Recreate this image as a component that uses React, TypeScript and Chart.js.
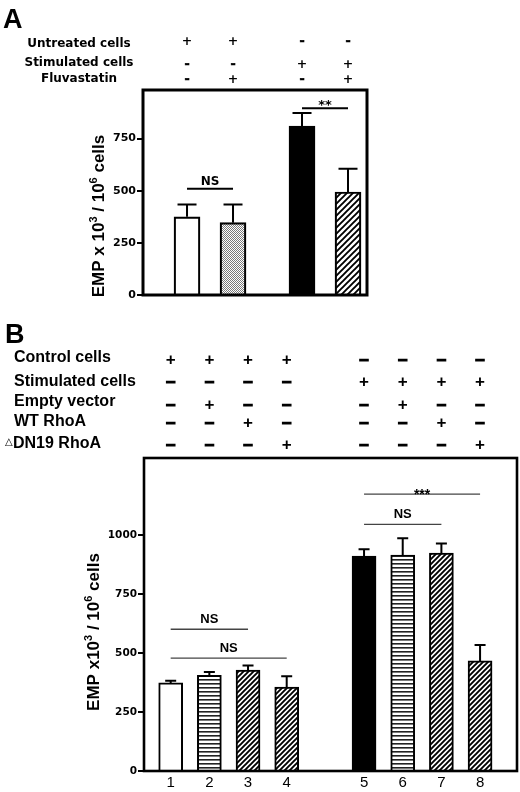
import React, { useEffect, useRef } from 'react';
import { Chart, registerables } from 'chart.js';
Chart.register(...registerables);

// ---------------- Panel A data ----------------
const aRowLabels = ['Untreated cells', 'Stimulated cells', 'Fluvastatin'];
const aSigns = [
  ['+', '+', '-', '-'],
  ['-', '-', '+', '+'],
  ['-', '+', '-', '+'],
];
const aGroups = [0, 0, 1, 1];
const aValues = [375, 347, 810, 494];
const aErrors = [59, 87, 63, 111];
const aYTicks = [0, 250, 500, 750];
const aBrackets = [
  { from: 0, to: 1, y: 510, label: 'NS' },
  { from: 2, to: 3, y: 896, label: '**' },
];

// ---------------- Panel B data ----------------
const bRowLabels = ['Control cells', 'Stimulated cells', 'Empty vector', 'WT RhoA', '△DN19 RhoA'];
const bSigns = [
  ['+', '+', '+', '+', '-', '-', '-', '-'],
  ['-', '-', '-', '-', '+', '+', '+', '+'],
  ['-', '+', '-', '-', '-', '+', '-', '-'],
  ['-', '-', '+', '-', '-', '-', '+', '-'],
  ['-', '-', '-', '+', '-', '-', '-', '+'],
];
const bGroups = [0, 0, 0, 0, 1, 1, 1, 1];
const bTickLabels = ['1', '2', '3', '4', '5', '6', '7', '8'];
const bValues = [373, 405, 427, 355, 910, 914, 922, 466];
const bErrors = [9, 14, 20, 46, 29, 71, 41, 67];
const bYTicks = [0, 250, 500, 750, 1000];
const bBrackets = [
  { from: 0, to: 2, y: 600, label: 'NS' },
  { from: 0, to: 3, y: 478, label: 'NS' },
  { from: 4, to: 6, y: 1044, label: 'NS' },
  { from: 4, to: 7, y: 1172, label: '***' },
];

const TITLE_A: [string, boolean][] = [['EMP x 10', false], ['3', true], [' / 10', false], ['6', true], [' cells', false]];
const TITLE_B: [string, boolean][] = [['EMP x10', false], ['3', true], [' / 10', false], ['6', true], [' cells', false]];

// ---------------- styles ----------------
type Fill = 'white' | 'black' | 'stipple' | 'diagonal' | 'horizontal';
const aFillKinds: Fill[] = ['white', 'stipple', 'black', 'diagonal'];
const bFillKinds: Fill[] = ['white', 'horizontal', 'diagonal', 'diagonal', 'black', 'horizontal', 'diagonal', 'diagonal'];

function makePattern(kind: Fill, hatch: number): string | CanvasPattern {
  if (kind === 'white') return '#ffffff';
  if (kind === 'black') return '#000000';
  const c = document.createElement('canvas');
  const g = c.getContext('2d')!;
  if (kind === 'stipple') {
    c.width = 2; c.height = 2;
    g.fillStyle = '#ffffff'; g.fillRect(0, 0, 2, 2);
    g.fillStyle = '#7a7a7a'; g.fillRect(0, 0, 1, 1); g.fillRect(1, 1, 1, 1);
  } else if (kind === 'horizontal') {
    c.width = 4; c.height = 4;
    g.fillStyle = '#ffffff'; g.fillRect(0, 0, 4, 4);
    g.fillStyle = '#222222'; g.fillRect(0, 0, 4, 1.6);
  } else {
    const s = hatch;
    c.width = s; c.height = s;
    g.fillStyle = '#ffffff'; g.fillRect(0, 0, s, s);
    g.strokeStyle = '#000000'; g.lineWidth = 1.9; g.lineCap = 'square';
    g.beginPath();
    g.moveTo(-1, s + 1); g.lineTo(s + 1, -1);
    g.moveTo(-1, 1); g.lineTo(1, -1);
    g.moveTo(s - 1, s + 1); g.lineTo(s + 1, s - 1);
    g.stroke();
  }
  return g.createPattern(c, 'repeat')!;
}

interface Layout {
  letter: string;
  width: number; height: number;
  area: { left: number; right: number; top: number; bottom: number };
  xMin: number; xMax: number; yMax: number; groupGap: number;
  barThickness: number; barBorder: number; hatch: number;
  capWidth: number; errWidth: number; boxWidth: number;
  tickSize: number; tickLength: number;
  rowFont: string; rowAlign: CanvasTextAlign; rowX: number; rowY: number[];
  signFont: string; signY: number[]; minusGlyph: string; minusStroke: number;
  title: [string, boolean][]; titleX: number; titleY: number; titleSize: number;
  bracketColor: string; bracketWidth: number; bracketFont: string; nsGap: number; starGap: number; starFont: string;
  xLabels: string[] | null; xAxisHeight: number;
}

const LAYOUT_A: Layout = {
  letter: 'A', width: 520, height: 315,
  area: { left: 143, right: 367, top: 90, bottom: 305 },
  xMin: -0.957, xMax: 3.913, yMax: 983, groupGap: 0.5,
  barThickness: 26, barBorder: 2.2, hatch: 6,
  capWidth: 19, errWidth: 2, boxWidth: 3,
  tickSize: 11, tickLength: 6,
  rowFont: 'bold 12px "DejaVu Sans"', rowAlign: 'center', rowX: 79, rowY: [46.5, 65.5, 81.5],
  signFont: 'bold 12.5px "DejaVu Sans"', signY: [42, 65, 80], minusGlyph: '-', minusStroke: 0.6,
  title: TITLE_A, titleX: 98, titleY: 216, titleSize: 17,
  bracketColor: '#000', bracketWidth: 2, bracketFont: 'bold 12px "DejaVu Sans"', nsGap: 3.5, starGap: -1, starFont: 'bold 13px "DejaVu Sans"',
  xLabels: null, xAxisHeight: 10,
};

const LAYOUT_B: Layout = {
  letter: 'B', width: 520, height: 477,
  area: { left: 144, right: 517, top: 143, bottom: 456 },
  xMin: -0.69, xMax: 8.955, yMax: 1325, groupGap: 1,
  barThickness: 24, barBorder: 2, hatch: 5,
  capWidth: 11, errWidth: 2, boxWidth: 2.6,
  tickSize: 10.5, tickLength: 6,
  rowFont: 'bold 16px "Liberation Sans"', rowAlign: 'left', rowX: 14, rowY: [47.4, 70.7, 91.4, 110.7, 133.3],
  signFont: 'bold 17px "Liberation Sans"', signY: [45, 67.5, 90.5, 108, 130], minusGlyph: '–', minusStroke: 1.2,
  title: TITLE_B, titleX: 93, titleY: 317, titleSize: 17,
  bracketColor: '#444', bracketWidth: 1.3, bracketFont: 'bold 13px "Liberation Sans"', nsGap: 6.4, starGap: -5, starFont: 'bold 14px "Liberation Sans"',
  xLabels: bTickLabels, xAxisHeight: 21,
};

function drawTitle(ctx: CanvasRenderingContext2D, parts: [string, boolean][], cx: number, cy: number, size: number) {
  const fam = '"Liberation Sans", Arial, sans-serif';
  const base = `bold ${size}px ${fam}`;
  const sup = `bold ${Math.round(size * 0.62)}px ${fam}`;
  ctx.save();
  ctx.translate(cx, cy);
  ctx.rotate(-Math.PI / 2);
  let total = 0;
  const widths = parts.map(([t, s]) => { ctx.font = s ? sup : base; const w = ctx.measureText(t).width; total += w; return w; });
  let x = -total / 2;
  const baseline = size * 0.716 / 2;
  ctx.fillStyle = '#000';
  ctx.textAlign = 'left';
  ctx.textBaseline = 'alphabetic';
  parts.forEach(([t, s], i) => {
    ctx.font = s ? sup : base;
    ctx.fillText(t, x, s ? baseline - size * 0.42 : baseline);
    x += widths[i];
  });
  ctx.restore();
}

function makePlugin(L: Layout, groups: number[], values: number[], errors: number[], brackets: { from: number; to: number; y: number; label: string }[], rowLabels: string[], signs: string[][]) {
  const pos = (i: number) => i + groups[i] * L.groupGap;
  return {
    id: 'panel' + L.letter,
    afterDatasetsDraw(chart: any) {
      const ctx: CanvasRenderingContext2D = chart.ctx;
      const xs = chart.scales.x; const ys = chart.scales.y; const ca = chart.chartArea;
      ctx.save();
      // error bars
      ctx.strokeStyle = '#000'; ctx.lineWidth = L.errWidth; ctx.lineCap = 'butt';
      const meta = chart.getDatasetMeta(0);
      meta.data.forEach((el: any, i: number) => {
        const x = el.x; const yTop = el.y;
        const yE = ys.getPixelForValue(values[i] + errors[i]);
        ctx.beginPath();
        ctx.moveTo(x, yTop); ctx.lineTo(x, yE);
        ctx.moveTo(x - L.capWidth / 2, yE); ctx.lineTo(x + L.capWidth / 2, yE);
        ctx.stroke();
      });
      // frame
      ctx.lineWidth = L.boxWidth; ctx.strokeStyle = '#000';
      ctx.strokeRect(ca.left, ca.top, ca.right - ca.left, ca.bottom - ca.top);
      // significance brackets
      ctx.strokeStyle = L.bracketColor; ctx.lineWidth = L.bracketWidth;
      ctx.fillStyle = '#000'; ctx.textAlign = 'center'; ctx.textBaseline = 'alphabetic';
      brackets.forEach(b => {
        const x1 = xs.getPixelForValue(pos(b.from)); const x2 = xs.getPixelForValue(pos(b.to));
        const y = ys.getPixelForValue(b.y);
        ctx.beginPath(); ctx.moveTo(x1, y); ctx.lineTo(x2, y); ctx.stroke();
        const star = b.label.includes('*');
        ctx.font = star ? L.starFont : L.bracketFont;
        ctx.fillText(b.label, (x1 + x2) / 2, y - (star ? L.starGap : L.nsGap));
      });
      ctx.restore();
    },
    afterDraw(chart: any) {
      const ctx: CanvasRenderingContext2D = chart.ctx;
      const xs = chart.scales.x;
      ctx.save();
      ctx.fillStyle = '#000';
      ctx.strokeStyle = '#000';
      // panel letter
      ctx.font = 'bold 27px "Liberation Sans"'; ctx.textAlign = 'left'; ctx.textBaseline = 'alphabetic';
      ctx.fillText(L.letter, L.letter === 'A' ? 3 : 5, 28);
      // row labels
      rowLabels.forEach((lab, r) => {
        ctx.font = L.rowFont; ctx.textAlign = L.rowAlign; ctx.textBaseline = 'alphabetic';
        if (lab.startsWith('△')) {
          const rest = lab.slice(1);
          ctx.font = '10px "DejaVu Sans"'; ctx.textAlign = 'left';
          ctx.fillText('△', L.rowX - 9, L.rowY[r] - 3);
          ctx.font = L.rowFont;
          ctx.fillText(rest, L.rowX - 1, L.rowY[r]);
        } else {
          ctx.fillText(lab, L.rowX, L.rowY[r]);
        }
      });
      // +/- signs
      ctx.font = L.signFont; ctx.textAlign = 'center'; ctx.textBaseline = 'middle';
      signs.forEach((row, r) => {
        row.forEach((s, i) => {
          const x = xs.getPixelForValue(i + groups[i] * L.groupGap);
          if (s === '-') {
            ctx.fillText(L.minusGlyph, x, L.signY[r]);
            ctx.lineWidth = L.minusStroke;
            ctx.strokeText(L.minusGlyph, x, L.signY[r]);
          } else {
            ctx.fillText(s, x, L.signY[r]);
          }
        });
      });
      ctx.restore();
      drawTitle(ctx, L.title, L.titleX, L.titleY, L.titleSize);
    },
  };
}

function buildConfig(L: Layout, groups: number[], values: number[], errors: number[], fills: Fill[], yTicks: number[], brackets: any[], rowLabels: string[], signs: string[][]): any {
  const positions = groups.map((g, i) => i + g * L.groupGap);
  return {
    type: 'bar',
    data: {
      datasets: [{
        data: values.map((v, i) => ({ x: positions[i], y: v })),
        backgroundColor: fills.map(f => makePattern(f, L.hatch)),
        borderColor: '#000',
        borderWidth: L.barBorder,
        borderSkipped: 'start',
        barThickness: L.barThickness,
      }],
    },
    options: {
      responsive: false,
      maintainAspectRatio: false,
      animation: false,
      events: [],
      layout: { padding: { left: 0, top: L.area.top, right: L.width - L.area.right, bottom: L.xLabels ? L.height - L.area.bottom - L.xAxisHeight : L.height - L.area.bottom } },
      plugins: { legend: { display: false }, tooltip: { enabled: false }, title: { display: false } },
      scales: {
        x: {
          type: 'linear', min: L.xMin, max: L.xMax, offset: false,
          display: !!L.xLabels,
          afterBuildTicks: (s: any) => { s.ticks = positions.map(p => ({ value: p })); },
          ticks: {
            autoSkip: false, maxRotation: 0, padding: 3, color: '#000',
            font: { family: 'Liberation Sans', size: 15 },
            callback: (_v: any, idx: number) => (L.xLabels ? L.xLabels[idx] : ''),
          },
          grid: { display: false, drawTicks: false },
          border: { display: false },
          afterFit: (s: any) => { s.height = L.xAxisHeight; },
        },
        y: {
          min: 0, max: L.yMax,
          afterBuildTicks: (s: any) => { s.ticks = yTicks.map(v => ({ value: v })); },
          ticks: {
            color: '#000', padding: 1,
            font: { family: 'DejaVu Sans', size: L.tickSize, weight: 'bold' },
            callback: (v: any) => String(v),
          },
          grid: { drawOnChartArea: false, drawTicks: true, tickLength: L.tickLength, color: '#000', lineWidth: 2 },
          border: { display: false },
          afterFit: (s: any) => { s.width = L.area.left; },
        },
      },
    },
    plugins: [makePlugin(L, groups, values, errors, brackets, rowLabels, signs)],
  };
}

function Panel({ L, top, cfg }: { L: Layout; top: number; cfg: () => any }) {
  const ref = useRef<HTMLCanvasElement>(null);
  useEffect(() => {
    if (!ref.current) return;
    const chart = new Chart(ref.current, cfg());
    return () => chart.destroy();
  }, []);
  return (
    <canvas
      ref={ref}
      width={L.width}
      height={L.height}
      style={{ position: 'absolute', left: 0, top, width: L.width, height: L.height }}
    />
  );
}

export default function App() {
  return (
    <div style={{ position: 'absolute', left: 0, top: 0, width: 520, height: 792, background: '#fff', overflow: 'hidden' }}>
      <Panel L={LAYOUT_A} top={0} cfg={() => buildConfig(LAYOUT_A, aGroups, aValues, aErrors, aFillKinds, aYTicks, aBrackets, aRowLabels, aSigns)} />
      <Panel L={LAYOUT_B} top={315} cfg={() => buildConfig(LAYOUT_B, bGroups, bValues, bErrors, bFillKinds, bYTicks, bBrackets, bRowLabels, bSigns)} />
    </div>
  );
}
